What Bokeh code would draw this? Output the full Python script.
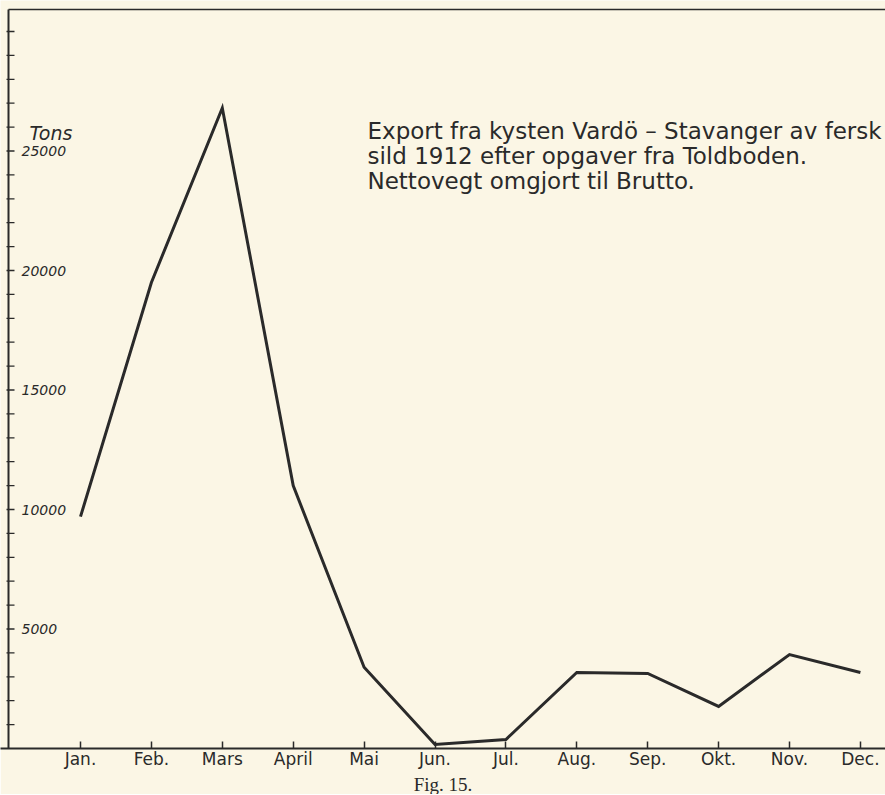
from bokeh.plotting import figure
from bokeh.models import Range1d, FixedTicker, Label, Title, ColumnDataSource
from bokeh.core.properties import value
from bokeh.embed import file_html
from bokeh.resources import INLINE

months = ["Jan.", "Feb.", "Mars", "April", "Mai", "Jun.", "Jul.", "Aug.", "Sep.", "Okt.", "Nov.", "Dec."]
tons = [9700, 19500, 26800, 11000, 3400, 170, 375, 3180, 3140, 1760, 3930, 3180]
y_major = [5000, 10000, 15000, 20000, 25000]
y_major_labels = ["5000", "10000", "15000", "20000", "25000"]
y_minor = list(range(1000, 31000, 1000))
note_lines = ["Export fra kysten Vardö \u2013 Stavanger  av fersk",
              "sild 1912 efter opgaver fra  Toldboden.",
              "Nettovegt omgjort til Brutto."]
unit_label = "Tons"
caption = "Fig. 15."

BG = "#fbf6e5"
INK = "#2a2a2a"
FONT = "DejaVu Sans"

FW, FH = 885, 748
px_per_month = 70.9
px_per_1000 = 23.9
x0 = -80 / px_per_month
x1 = x0 + FW / px_per_month
y_top = FH / px_per_1000 * 1000

p = figure(frame_width=FW, frame_height=FH, output_backend="svg", toolbar_location=None,
           x_range=Range1d(x0, x1), y_range=Range1d(0, y_top),
           y_axis_location=None, min_border=0)
p.background_fill_color = BG
p.border_fill_color = BG
p.outline_line_color = None
p.grid.visible = False

xa = p.xaxis[0]
xa.ticker = FixedTicker(ticks=list(range(len(months))))
xa.major_label_overrides = {i: m for i, m in enumerate(months)}
xa.major_tick_in = 7
xa.major_tick_out = 0
xa.minor_tick_in = 0
xa.minor_tick_out = 0
xa.axis_line_width = 2
xa.axis_line_color = INK
xa.major_tick_line_color = INK
xa.major_tick_line_width = 1.5
xa.major_label_text_font = FONT
xa.major_label_text_font_size = "17px"
xa.major_label_text_color = INK
xa.major_label_standoff = 0

# left axis line, top border and inward ticks (data coordinates via the figure's scales)
left_x = x0 + 8 / px_per_month
tick_len = 6 / px_per_month
top_y = y_top - 9 / px_per_1000 * 1000
p.segment(x0=[left_x], y0=[0], x1=[left_x], y1=[top_y], line_color=INK, line_width=2)
p.segment(x0=[left_x], y0=[top_y], x1=[x1], y1=[top_y], line_color=INK, line_width=1.5)
p.segment(x0=[left_x - 2 / px_per_month] * len(y_minor), y0=y_minor,
          x1=[left_x + tick_len] * len(y_minor), y1=y_minor, line_color=INK, line_width=1.3)

lab_src = ColumnDataSource(dict(x=[x0 + 21 / px_per_month] * len(y_major), y=y_major, t=y_major_labels))
p.text(x="x", y="y", text="t", source=lab_src, text_font=value(FONT), text_font_style="italic",
       text_font_size="14px", text_color=INK, text_align="left", text_baseline="middle")

p.line(x=list(range(len(months))), y=tons, line_color=INK, line_width=3, line_join="miter")

p.add_layout(Label(x=29, y=FH - 132, x_units="screen", y_units="screen", text=unit_label,
                   text_font=FONT, text_font_style="italic", text_font_size="19px",
                   text_color=INK, text_baseline="middle"))
for i, line in enumerate(note_lines):
    p.add_layout(Label(x=367, y=FH - 130 - i * 25, x_units="screen", y_units="screen", text=line,
                       text_font=FONT, text_font_size="23px", text_color=INK,
                       text_baseline="alphabetic"))

p.add_layout(Title(text=caption, align="center", text_font="Liberation Serif", text_font_size="19px",
                   text_font_style="normal", text_color=INK, standoff=0, text_line_height=1.0), "below")

open("out.html", "w").write(file_html(p, INLINE))
